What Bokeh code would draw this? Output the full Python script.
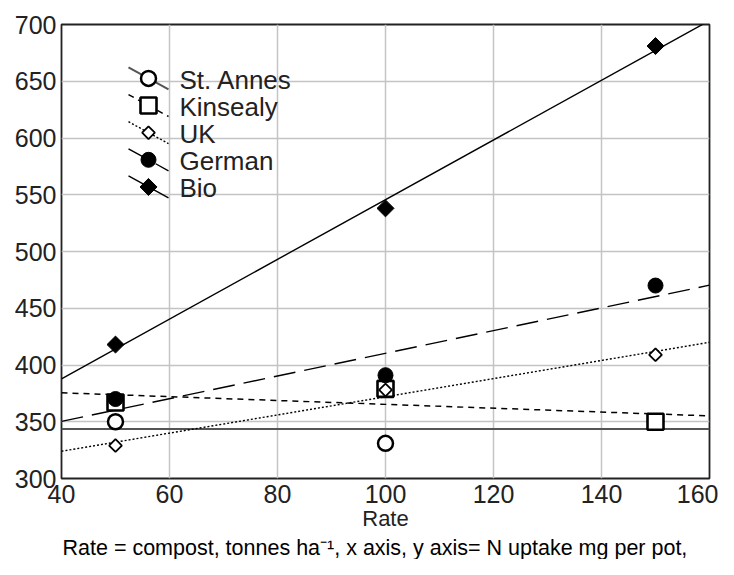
import numpy as np
from bokeh.plotting import figure
from bokeh.models import Title, FixedTicker
from bokeh.core.properties import value
from bokeh.embed import file_html
from bokeh.resources import INLINE

# ---- data ----
rate = [50, 100, 150]
series_names = ["St. Annes", "Kinsealy", "UK", "German", "Bio"]
st_annes = [350, 331, 350]
kinsealy = [367, 379, 350]
uk = [329, 378, 409]
german = [370, 391, 470]
bio = [418, 538, 681]
x_ticks = [40, 60, 80, 100, 120, 140, 160]
y_ticks = [300, 350, 400, 450, 500, 550, 600, 650, 700]
x_title = "Rate"
caption = "Rate = compost, tonnes ha\u207b\u00b9, x axis, y axis= N uptake mg per pot,"

FONT = "Liberation Sans"
X0, X1, Y0, Y1 = 40, 160, 300, 700
FL, FT, FW, FH = 61, 24, 648, 455   # frame left/top/width/height in px

p = figure(width=718, height=559, x_range=(X0, X1), y_range=(Y0, Y1),
           output_backend="svg", toolbar_location=None,
           min_border_left=FL, min_border_right=718 - FL - FW, min_border_top=FT,
           min_border_bottom=559 - FT - FH)
p.background_fill_color = "white"
p.outline_line_color = "#222222"
p.outline_line_width = 1.8

p.xaxis.ticker = FixedTicker(ticks=x_ticks)
p.yaxis.ticker = FixedTicker(ticks=y_ticks)
for ax in (p.xaxis, p.yaxis):
    ax.axis_line_color = None
    ax.major_tick_line_color = None
    ax.minor_tick_line_color = None
    ax.major_tick_out = 0
    ax.major_tick_in = 0
    ax.minor_tick_out = 0
    ax.major_label_text_font = FONT
    ax.major_label_text_font_size = "25px"
    ax.major_label_text_color = "#222222"
p.xaxis.major_label_standoff = 6
p.yaxis.major_label_standoff = 5
p.xaxis.axis_label = x_title
p.xaxis.axis_label_text_font = FONT
p.xaxis.axis_label_text_font_size = "22px"
p.xaxis.axis_label_text_font_style = "normal"
p.xaxis.axis_label_text_color = "#222222"
p.xaxis.axis_label_standoff = 0

p.grid.grid_line_color = "#c4c4c4"
p.grid.grid_line_width = 1.5

styles = {
    "St. Annes": dict(color="#555555", width=2.0, dash="solid"),
    "Kinsealy": dict(color="black", width=1.5, dash="6 5"),
    "UK": dict(color="black", width=1.4, dash="2 2"),
    "German": dict(color="black", width=1.4, dash="22 9"),
    "Bio": dict(color="black", width=1.4, dash="solid"),
}
markers = {
    "St. Annes": dict(marker="circle", size=15, fill_color="white", line_width=2.5, angle=0),
    "Kinsealy": dict(marker="square", size=16, fill_color="white", line_width=2.6, angle=0),
    "UK": dict(marker="square", size=9, fill_color="white", line_width=1.8, angle=np.pi / 4),
    "German": dict(marker="circle", size=15, fill_color="black", line_width=1, angle=0),
    "Bio": dict(marker="square", size=12, fill_color="black", line_width=1, angle=np.pi / 4),
}
values = [st_annes, kinsealy, uk, german, bio]

# regression lines
xline = np.array([float(X0), float(X1)])
for name, ys in zip(series_names, values):
    k, b = np.polyfit(rate, ys, 1)
    s = styles[name]
    p.line(xline, k * xline + b, line_color=s["color"], line_width=s["width"],
           line_dash=s["dash"])

# points
for name, ys in zip(series_names, values):
    m = markers[name]
    p.scatter(rate, ys, marker=m["marker"], size=m["size"], fill_color=m["fill_color"],
              line_color="black", line_width=m["line_width"], angle=m["angle"])

# pixel -> data helpers (for layout of legend)
xpx = (X1 - X0) / FW
ypx = (Y1 - Y0) / FH
def dx(px):
    return X0 + (px - FL) * xpx
def dy(py):
    return Y1 - (py - FT) * ypx

# manual legend (diagonal line through marker)
leg_x = dx(148)
txt_x = dx(179)
for i, name in enumerate(series_names):
    yc = dy(78 + 27.2 * i)
    s = styles[name]
    m = markers[name]
    p.line([leg_x - 20 * xpx, leg_x + 20 * xpx], [yc + 11 * ypx, yc - 11 * ypx],
           line_color=s["color"], line_width=s["width"], line_dash=s["dash"])
    p.scatter([leg_x], [yc], marker=m["marker"], size=m["size"], fill_color=m["fill_color"],
              line_color="black", line_width=m["line_width"], angle=m["angle"])
    p.text([txt_x], [yc - 1.5 * ypx], text=[name], text_font=value(FONT),
           text_font_size="26px", text_baseline="middle", text_align="left",
           text_color="#222222")

cap = Title(text=caption, align="left", text_font=FONT, text_font_size="21.5px",
            text_font_style="normal", text_color="black", standoff=0, offset=1)
p.add_layout(cap, "below")

open("out.html", "w").write(file_html(p, INLINE))
